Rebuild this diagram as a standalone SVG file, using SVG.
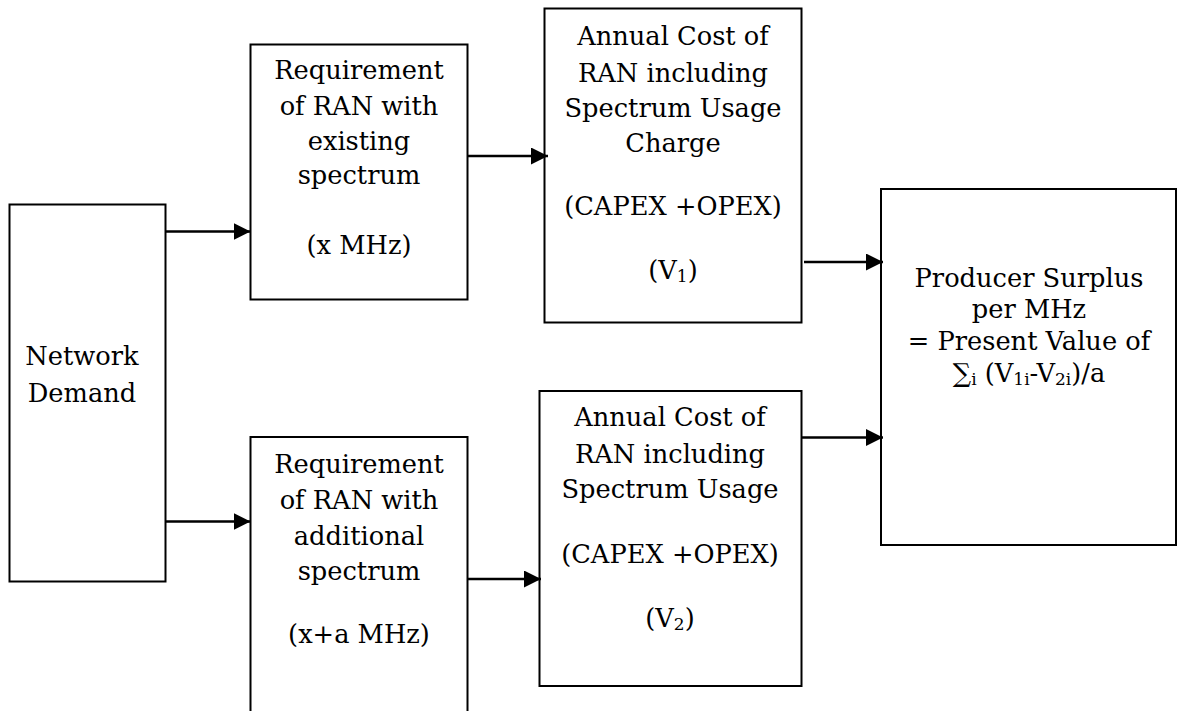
<svg xmlns="http://www.w3.org/2000/svg" width="1178" height="711" viewBox="0 0 1178 711">
<style>
.box{fill:#fff;stroke:#000;stroke-width:2}
.t{font-family:"DejaVu Serif","Liberation Serif",serif;font-size:25.7px;fill:#000;text-anchor:middle}
.s{font-size:17px}
.c{stroke:#000;stroke-width:2.5;fill:none}
</style>
<defs>
<marker id="ah" markerWidth="17" markerHeight="17" refX="17" refY="8.5" orient="auto" markerUnits="userSpaceOnUse">
<path d="M0,0 L17,8.5 L0,17 Z" fill="#000"/>
</marker>
</defs>
<rect width="1178" height="711" fill="#fff"/>
<g id="network-demand">
<rect class="box" x="9.5" y="204.5" width="156" height="377"/>
<text class="t" x="82" y="365">Network</text>
<text class="t" x="82" y="402">Demand</text>
</g>
<g id="req-existing">
<rect class="box" x="250.5" y="44.5" width="217" height="255"/>
<text class="t" x="359" y="79">Requirement</text>
<text class="t" x="359" y="115">of RAN with</text>
<text class="t" x="359" y="150">existing</text>
<text class="t" x="359" y="184">spectrum</text>
<text class="t" x="359" y="254">(x MHz)</text>
</g>
<g id="req-additional">
<rect class="box" x="250.5" y="437" width="217" height="290"/>
<text class="t" x="359" y="473">Requirement</text>
<text class="t" x="359" y="509">of RAN with</text>
<text class="t" x="359" y="545">additional</text>
<text class="t" x="359" y="580">spectrum</text>
<text class="t" x="359" y="643">(x+a MHz)</text>
</g>
<g id="cost-v1">
<rect class="box" x="544.5" y="8.5" width="257" height="314"/>
<text class="t" x="673" y="45">Annual Cost of</text>
<text class="t" x="673" y="82">RAN including</text>
<text class="t" x="673" y="117">Spectrum Usage</text>
<text class="t" x="673" y="152">Charge</text>
<text class="t" x="673" y="215">(CAPEX +OPEX)</text>
<text class="t" x="673" y="279">(V<tspan class="s" dy="3">1</tspan><tspan dy="-3">)</tspan></text>
</g>
<g id="cost-v2">
<rect class="box" x="539.5" y="391" width="262" height="295"/>
<text class="t" x="670" y="426">Annual Cost of</text>
<text class="t" x="670" y="463">RAN including</text>
<text class="t" x="670" y="498">Spectrum Usage</text>
<text class="t" x="670" y="563">(CAPEX +OPEX)</text>
<text class="t" x="670" y="627">(V<tspan class="s" dy="3">2</tspan><tspan dy="-3">)</tspan></text>
</g>
<g id="producer-surplus">
<rect class="box" x="881" y="189" width="295" height="356"/>
<text class="t" x="1029" y="287">Producer Surplus</text>
<text class="t" x="1029" y="318">per MHz</text>
<text class="t" x="1029" y="350">= Present Value of</text>
<text class="t" x="1029" y="382">∑<tspan class="s" dy="3">i</tspan><tspan dy="-3"> (V</tspan><tspan class="s" dy="3">1i</tspan><tspan dy="-3">-V</tspan><tspan class="s" dy="3">2i</tspan><tspan dy="-3">)/a</tspan></text>
</g>
<g id="connectors">
<line class="c" x1="165.5" y1="231.5" x2="250.5" y2="231.5" marker-end="url(#ah)"/>
<line class="c" x1="165.5" y1="521.5" x2="250.5" y2="521.5" marker-end="url(#ah)"/>
<line class="c" x1="467.5" y1="156" x2="548" y2="156" marker-end="url(#ah)"/>
<line class="c" x1="467.5" y1="579" x2="541" y2="579" marker-end="url(#ah)"/>
<line class="c" x1="804" y1="262" x2="883" y2="262" marker-end="url(#ah)"/>
<line class="c" x1="801.5" y1="437.5" x2="883" y2="437.5" marker-end="url(#ah)"/>
</g>
</svg>
